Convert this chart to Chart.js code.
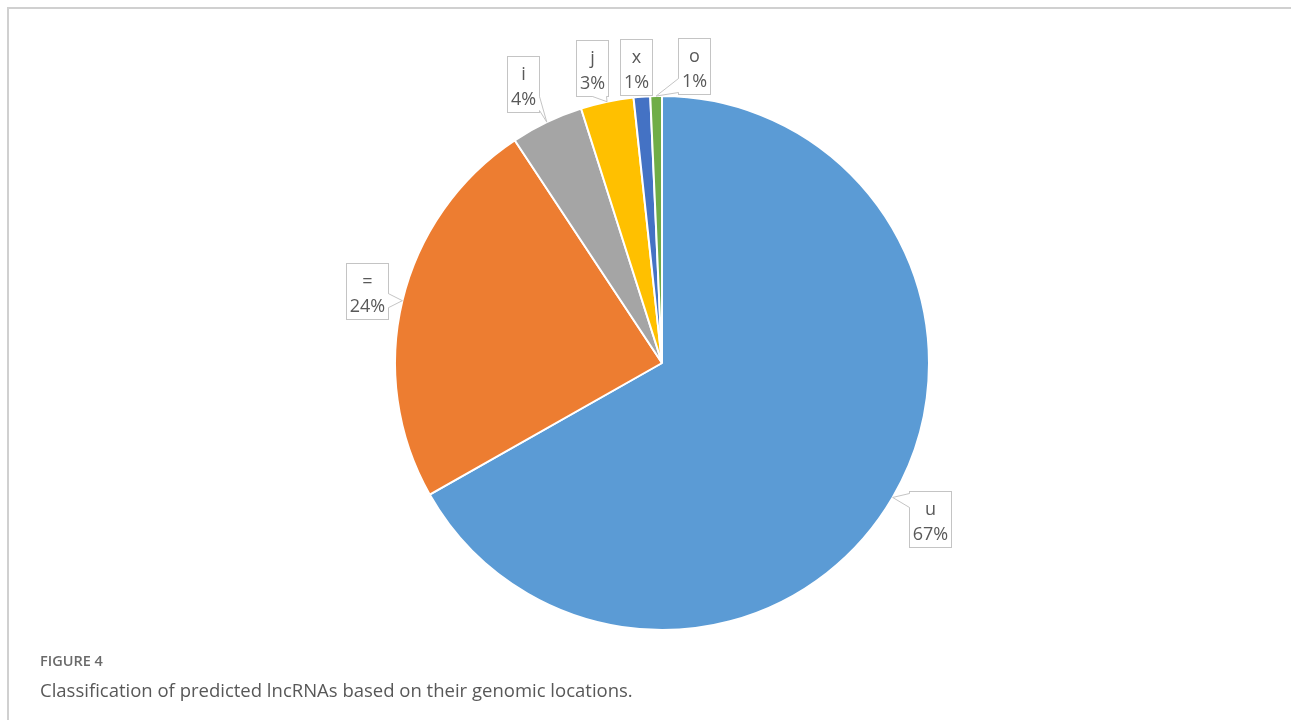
<!DOCTYPE html>
<html>
<head>
<meta charset="utf-8">
<script src="https://cdn.jsdelivr.net/npm/chart.js@4.4.0/dist/chart.umd.min.js"></script>
<style>
  html, body { margin: 0; padding: 0; background: #fff; }
  body { width: 1291px; height: 720px; position: relative; overflow: hidden; font-family: 'Open Sans', sans-serif; }
  #frame { position: absolute; left: 7px; top: 7px; right: -4px; bottom: -4px; border-left: 2px solid #d0d0d0; border-top: 2px solid #d0d0d0; }
  #pie { position: absolute; left: 0; top: 0; }
  .fig-label { position: absolute; left: 40px; top: 654px; font-size: 14.5px; line-height: 1; font-weight: 600; color: #6a6a6a; }
  .fig-caption { position: absolute; left: 40px; top: 677px; font-size: 18.5px; line-height: 1.362; color: #585858; }
</style>
</head>
<body>
<div id="frame"></div>
<canvas id="pie" width="1291" height="720"></canvas>
<div class="fig-label">FIGURE 4</div>
<div class="fig-caption">Classification of predicted lncRNAs based on their genomic locations.</div>
<script>
// lncRNA class codes and their share of all predicted transcripts (%)
const categories = ['u', '=', 'i', 'j', 'x', 'o'];
const shares = [66.8, 23.9, 4.4, 3.2, 1.0, 0.7];
const sliceColors = ['#5B9BD5', '#ED7D31', '#A5A5A5', '#FFC000', '#4472C4', '#70AD47'];

// small hand nudges so the callouts don't collide (px)
const labelNudge = {
  'u': [0, 0],
  '=': [6, 0],
  'i': [-5, 0],
  'j': [-6, 8],
  'x': [-3, 13],
  'o': [39, 13]
};

const calloutPlugin = {
  id: 'callouts',
  afterDatasetsDraw(chart, args, opts) {
    const ctx = chart.ctx;
    const meta = chart.getDatasetMeta(0);
    const values = chart.data.datasets[0].data;
    const total = values.reduce((a, b) => a + b, 0);
    const half = 7;

    ctx.save();
    ctx.font = opts.font;
    ctx.lineWidth = 1;

    meta.data.forEach((arc, i) => {
      const { x, y, startAngle, endAngle, outerRadius } =
        arc.getProps(['x', 'y', 'startAngle', 'endAngle', 'outerRadius'], true);
      const mid = (startAngle + endAngle) / 2;
      const label = chart.data.labels[i];
      const nudge = opts.nudge[label] || [0, 0];

      const tip = { x: x + Math.cos(mid) * outerRadius, y: y + Math.sin(mid) * outerRadius };
      const cx = x + Math.cos(mid) * outerRadius * opts.distance + nudge[0];
      const cy = y + Math.sin(mid) * outerRadius * opts.distance + nudge[1];

      const lines = [label, Math.round(values[i] / total * 100) + '%'];
      const w = Math.round(Math.max(...lines.map(t => ctx.measureText(t).width)) + opts.padX * 2);
      const h = opts.boxHeight;
      const left = Math.round(cx - w / 2) + 0.5;
      const top = Math.round(cy - h / 2) + 0.5;

      ctx.fillStyle = '#fff';
      ctx.strokeStyle = opts.borderColor;
      ctx.fillRect(left, top, w, h);
      ctx.strokeRect(left, top, w, h);

      // tail towards the slice, only when the tip is outside the box
      const inside = tip.x > left - 2 && tip.x < left + w + 2 && tip.y > top - 2 && tip.y < top + h + 2;
      if (!inside) {
        const dx = tip.x - cx, dy = tip.y - cy;
        let b1, b2, b1in, b2in;
        if (Math.abs(dx) / (w / 2) > Math.abs(dy) / (h / 2)) {
          const ex = dx < 0 ? left : left + w;
          const inward = dx < 0 ? 1.5 : -1.5;
          const by = Math.min(Math.max(tip.y, top + half + 2), top + h - half - 2);
          b1 = [ex, by - half]; b2 = [ex, by + half];
          b1in = [ex + inward, by - half + 1]; b2in = [ex + inward, by + half - 1];
        } else {
          const ey = dy < 0 ? top : top + h;
          const inward = dy < 0 ? 1.5 : -1.5;
          const bx = Math.min(Math.max(tip.x, left + half + 2), left + w - half - 2);
          b1 = [bx - half, ey]; b2 = [bx + half, ey];
          b1in = [bx - half + 1, ey + inward]; b2in = [bx + half - 1, ey + inward];
        }
        ctx.beginPath();
        ctx.moveTo(b1in[0], b1in[1]);
        ctx.lineTo(b1[0], b1[1]);
        ctx.lineTo(tip.x, tip.y);
        ctx.lineTo(b2[0], b2[1]);
        ctx.lineTo(b2in[0], b2in[1]);
        ctx.closePath();
        ctx.fill();
        ctx.beginPath();
        ctx.moveTo(b1[0], b1[1]);
        ctx.lineTo(tip.x, tip.y);
        ctx.lineTo(b2[0], b2[1]);
        ctx.stroke();
      }

      ctx.fillStyle = opts.color;
      ctx.textAlign = 'center';
      ctx.textBaseline = 'alphabetic';
      ctx.fillText(lines[0], left + w / 2, top + 23);
      ctx.fillText(lines[1], left + w / 2, top + 48);
    });
    ctx.restore();
  }
};

new Chart(document.getElementById('pie'), {
  type: 'pie',
  data: {
    labels: categories,
    datasets: [{
      data: shares,
      backgroundColor: sliceColors,
      borderColor: '#ffffff',
      borderWidth: 2
    }]
  },
  options: {
    responsive: false,
    devicePixelRatio: 1,
    animation: false,
    layout: { padding: { top: 95, bottom: 89, left: 394, right: 361 } },
    plugins: {
      legend: { display: false },
      tooltip: { enabled: false },
      callouts: {
        font: '18px "Open Sans", sans-serif',
        color: '#595959',
        borderColor: '#c4c4c4',
        padX: 3.5,
        boxHeight: 56,
        distance: 1.16,
        nudge: labelNudge
      }
    }
  },
  plugins: [calloutPlugin]
});
</script>
</body>
</html>
